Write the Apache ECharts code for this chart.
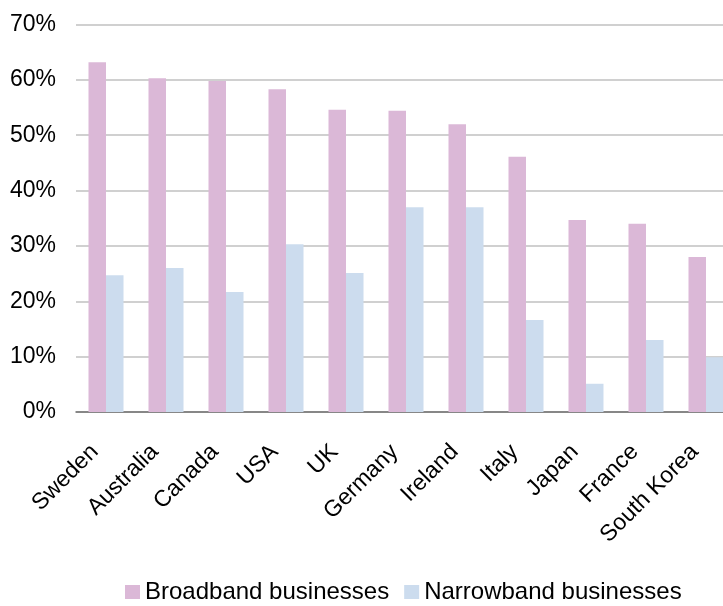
<!DOCTYPE html>
<html>
<head>
<meta charset="utf-8">
<title>Broadband vs narrowband businesses</title>
<script src="https://cdn.jsdelivr.net/npm/echarts@6/dist/echarts.min.js"></script>
<style>
  html, body { margin: 0; padding: 0; background: #ffffff; overflow: hidden; }
  /* the canvas is a little wider than the window so the last bar pair sits at the edge */
  #chart { width: 736px; height: 606px; }
</style>
</head>
<body>
<div id="chart"></div>
<script>
// Countries shown along the horizontal axis
const countries = ['Sweden', 'Australia', 'Canada', 'USA', 'UK', 'Germany',
  'Ireland', 'Italy', 'Japan', 'France', 'South Korea'];

// Share of businesses (%) by connection type
const broadband = [63.2, 60.3, 59.8, 58.3, 54.6, 54.4, 52.0, 46.1, 34.7, 34.0, 28.0];
const narrowband = [24.7, 26.0, 21.7, 30.3, 25.1, 37.0, 37.0, 16.6, 5.1, 13.0, 9.9];

const seriesNames = ['Broadband businesses', 'Narrowband businesses'];

const FONT = '"Liberation Sans", Arial, sans-serif';

const chart = echarts.init(document.getElementById('chart'), null, { renderer: 'canvas' });

chart.setOption({
  backgroundColor: '#ffffff',
  animation: false,
  textStyle: { fontFamily: FONT },
  grid: { left: 76, top: 24.5, right: 0, bottom: 194, containLabel: false },
  legend: {
    data: seriesNames,
    left: 125,
    top: 580,
    padding: 0,
    itemWidth: 15,
    itemHeight: 14,
    itemGap: 15,
    icon: 'rect',
    textStyle: { fontSize: 24, color: '#000000', fontFamily: FONT }
  },
  xAxis: {
    type: 'category',
    data: countries,
    axisTick: { show: false },
    axisLine: { lineStyle: { color: '#6f6f6f', width: 1.5 } },
    axisLabel: {
      interval: 0,
      rotate: 45,
      margin: 25,
      padding: [0, 16, 0, 0],
      fontSize: 23,
      color: '#000000',
      fontFamily: FONT
    }
  },
  yAxis: {
    type: 'value',
    min: 0,
    max: 70,
    interval: 10,
    axisLine: { show: false },
    axisTick: { show: false },
    splitLine: { lineStyle: { color: '#c0c0c0', width: 1.5 } },
    axisLabel: {
      formatter: '{value}%',
      fontSize: 23,
      margin: 20,
      color: '#000000',
      fontFamily: FONT
    }
  },
  series: [
    {
      name: seriesNames[0],
      type: 'bar',
      data: broadband,
      barWidth: 17.5,
      barGap: '0%',
      itemStyle: { color: '#dbb8d7' }
    },
    {
      name: seriesNames[1],
      type: 'bar',
      data: narrowband,
      barWidth: 17.5,
      barGap: '0%',
      itemStyle: { color: '#ccdcee' }
    }
  ]
});
</script>
</body>
</html>
